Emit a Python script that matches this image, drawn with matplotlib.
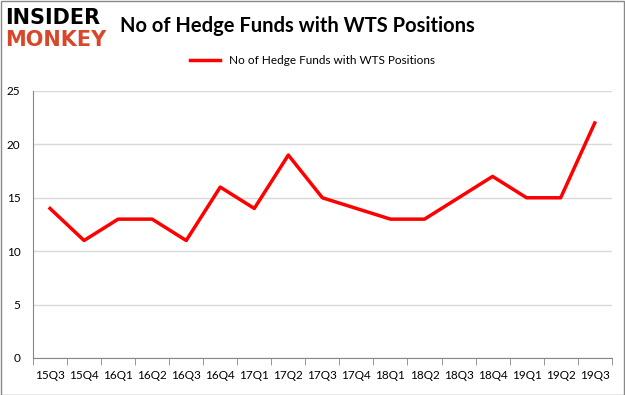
import matplotlib.pyplot as plt
import numpy as np

# data
quarters = ['15Q3', '15Q4', '16Q1', '16Q2', '16Q3', '16Q4', '17Q1', '17Q2', '17Q3',
            '17Q4', '18Q1', '18Q2', '18Q3', '18Q4', '19Q1', '19Q2', '19Q3']
funds = [14, 11, 13, 13, 11, 16, 14, 19, 15, 14, 13, 13, 15, 17, 15, 15, 22]
y_ticks = [0, 5, 10, 15, 20, 25]
series_name = 'No of Hedge Funds with WTS Positions'

plt.rcParams['font.family'] = ['Lato', 'DejaVu Sans']

fig = plt.figure(figsize=(6.25, 3.95), dpi=100)
ax = fig.add_axes([0.0528, 0.0937, 0.926, 0.676])

x = np.arange(len(quarters))
ax.plot(x, funds, color='#ff0000', linewidth=2.5, label=series_name)

ax.set_xlim(-0.5, len(quarters) - 0.5)
ax.set_ylim(0, 25)
ax.set_yticks(y_ticks)
ax.yaxis.grid(True, color='#d9d9d9', linewidth=1)
ax.set_axisbelow(True)

# category labels centred, tick marks on the boundaries (excel style)
ax.set_xticks(x)
ax.set_xticklabels(quarters, fontsize=8.5)
ax.set_xticks(np.arange(len(quarters) + 1) - 0.5, minor=True)
ax.tick_params(axis='x', which='major', length=0, pad=9)
ax.tick_params(axis='x', which='minor', length=5, color='#868686', direction='out')
ax.tick_params(axis='y', length=0, labelsize=8.5, pad=9)

for s in ['top', 'right']:
    ax.spines[s].set_visible(False)
ax.spines['left'].set_color('#868686')
ax.spines['bottom'].set_color('#868686')

fig.text(0.192, 0.935, 'No of Hedge Funds with WTS Positions', fontsize=14.5,
         fontweight='bold', va='center', ha='left')
fig.text(0.008, 0.955, 'INSIDER', fontsize=15, fontweight='heavy', color='black',
         va='center', ha='left', family='DejaVu Sans')
fig.text(0.008, 0.898, 'MONKEY', fontsize=15, fontweight='heavy', color='#d9472b',
         va='center', ha='left', family='DejaVu Sans')

fig.legend(loc='center', bbox_to_anchor=(0.5, 0.846), frameon=False,
           fontsize=8.5, handlelength=2.5)

# thin gray frame around the figure
fig.patches.append(plt.Rectangle((0.001, 0.001), 0.997, 0.997, transform=fig.transFigure,
                                 fill=False, edgecolor='#888888', linewidth=1))

fig.savefig('out.png', dpi=100)
